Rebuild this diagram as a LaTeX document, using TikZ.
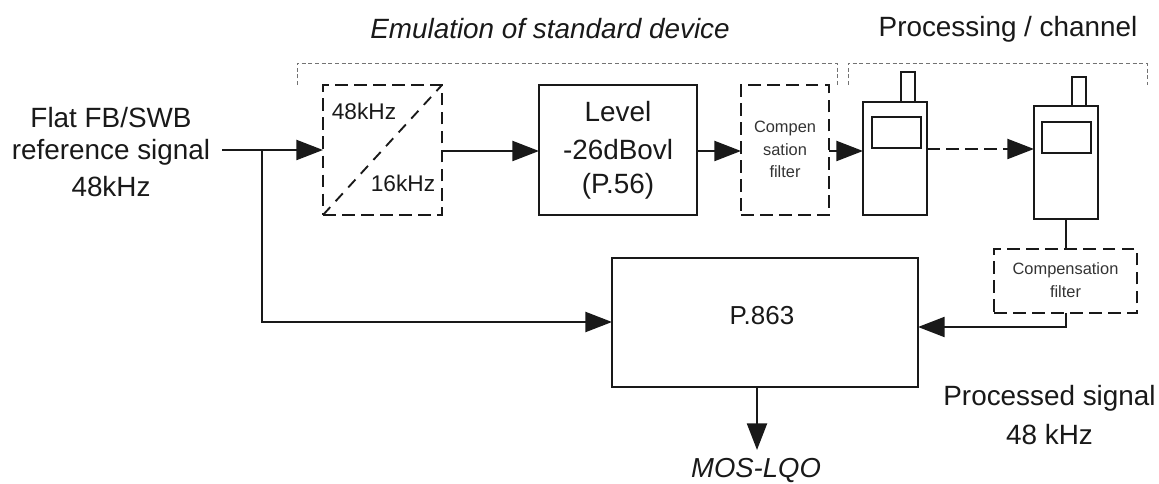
\documentclass[tikz,border=0pt]{standalone}
\usepackage{fontspec}
\setmainfont{Liberation Sans}
\usetikzlibrary{arrows.meta}
\newcommand{\fs}[1]{\fontsize{#1}{#1}\selectfont}
\tikzset{
 x=0.75pt,y=-0.75pt,
 solidbox/.style={draw=black!90,line width=1.7pt},
 dashbox/.style={draw=black!90,line width=1.6pt,dash pattern=on 9.5pt off 4.8pt},
 flow/.style={draw=black!90,line width=1.7pt,-{Triangle[length=20pt,width=15pt]}},
 plain/.style={draw=black!90,line width=1.7pt},
 bracket/.style={draw=black!55,line width=0.6pt,dash pattern=on 3pt off 2pt},
 lab/.style={inner sep=0pt,align=center,text=black!90},
 big/.style={lab,font=\fs{20.9}},
 mid/.style={lab,font=\fs{17}},
 small/.style={lab,font=\fs{12.3},text=black!80},
 area/.style={inner sep=0pt,outer sep=0pt}
}
\begin{document}
\begin{tikzpicture}
\useasboundingbox (0,0) rectangle (1159,484);
% brackets
\draw[bracket] (297,85) -- (297,63) -- (837,63) -- (837,85);
\draw[bracket] (848,85) -- (848,63) -- (1147,63) -- (1147,85);
\node[lab,font=\fs{20.9}\itshape] (emu) at (550,29) {Emulation of standard device};
\node[big] (proc) at (1008,29) {Processing / channel};
% input labels
\node[big] (flat) at (111,118) {Flat FB/SWB};
\node[big] (refs) at (111,152.5) {reference signal};
\node[big] (kin) at (111,187) {48kHz};
\coordinate (in) at (222,150);
% converter
\node[area,dashbox,minimum width=119pt*0.75,minimum height=130pt*0.75] (conv) at (382.5,150) {};
\draw[dashbox,line width=1.4pt,dash pattern=on 8pt off 6pt] (conv.south west) -- (conv.north east);
\node[mid] (k48) at (364,111) {48kHz};
\node[mid] (k16) at (403,183) {16kHz};
% level
\node[area,solidbox,minimum width=158pt*0.75,minimum height=130pt*0.75] (lev) at (618,150) {};
\node[big] (lev1) at (618,112) {Level};
\node[big] (lev2) at (618,150) {-26dBovl};
\node[big] (lev3) at (618,186) {(P.56)};
% comp
\node[area,dashbox,minimum width=88pt*0.75,minimum height=130pt*0.75] (comp) at (785,150) {};
\node[small] (comp1) at (785,128) {Compen};
\node[small] (comp2) at (785,150) {sation};
\node[small] (comp3) at (785,172) {filter};
% phones
\node[area,solidbox,minimum width=64pt*0.75,minimum height=113pt*0.75] (ph1) at (895,158.5) {};
\node[area,solidbox,minimum width=14pt*0.75,minimum height=30pt*0.75] (ant1) at (908,87) {};
\node[area,solidbox,minimum width=49pt*0.75,minimum height=31pt*0.75] (scr1) at (896.5,132.5) {};
\node[area,solidbox,minimum width=64pt*0.75,minimum height=113pt*0.75] (ph2) at (1066,162.5) {};
\node[area,solidbox,minimum width=14pt*0.75,minimum height=29pt*0.75] (ant2) at (1079,91.5) {};
\node[area,solidbox,minimum width=49pt*0.75,minimum height=31pt*0.75] (scr2) at (1066.5,137.5) {};
% filter
\node[area,dashbox,minimum width=143pt*0.75,minimum height=64pt*0.75] (filt) at (1065.5,281) {};
\node[small] (filt1) at (1065.5,270) {Compensation};
\node[small] (filt2) at (1065.5,292) {filter};
% P.863
\node[area,solidbox,minimum width=306pt*0.75,minimum height=129pt*0.75] (pesq) at (765,322.5) {};
\node[lab,font=\fs{19.5}] (pesqt) at (762,316) {P.863};
\node[lab,font=\fs{20.6}\itshape] (mos) at (756,471) {MOS-LQO};
\coordinate (mosin) at (757,450);
\node[big] (ps) at (1049.5,398) {Processed signal};
\node[big] (k48b) at (1049.5,435) {48 kHz};
% connectors
\coordinate (br) at (262,150);
\draw[flow] (in) -- (conv.west);
\draw[flow] (br) |- (pesq.west |- 0,322);
\draw[flow] (conv.east |- 0,151) -- (lev.west |- 0,151);
\draw[flow] (lev.east |- 0,151) -- (comp.west |- 0,151);
\draw[flow] (comp.east |- 0,151) -- (ph1.west |- 0,151);
\draw[flow,dash pattern=on 9.5pt off 4.8pt] (ph1.east |- 0,149) -- (ph2.west |- 0,149);
\draw[plain] (ph2.south) -- (filt.north -| ph2.south);
\draw[flow] (filt.south -| ph2.south) |- (pesq.east |- 0,327);
\draw[flow] (pesq.south -| mosin) -- (mosin);
\end{tikzpicture}
\end{document}
